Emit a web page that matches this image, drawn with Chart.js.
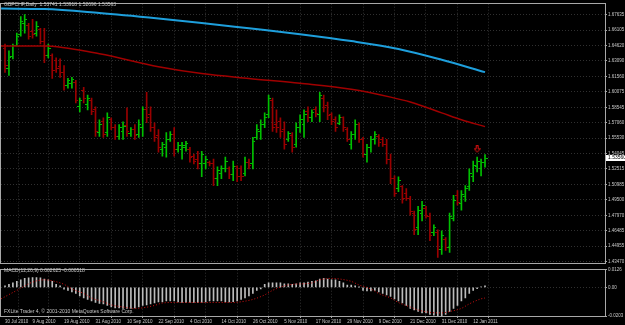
<!DOCTYPE html>
<html><head><meta charset="utf-8">
<script src="https://cdn.jsdelivr.net/npm/chart.js@4.4.0/dist/chart.umd.min.js"></script>
<style>
html,body{margin:0;padding:0;background:#000;width:625px;height:325px;overflow:hidden;}
#main{position:absolute;left:0;top:0;}
#macd{position:absolute;left:0;top:266px;}
</style></head><body>
<canvas id="main" width="625" height="266"></canvas>
<canvas id="macd" width="625" height="59"></canvas>
<script>
// ---------- DATA ----------
const titleText = 'GBPCHF,Daily  1.53741 1.53918 1.52696 1.53563';
const macdText = 'MACD(12,26,9) 0.002625 -0.000518';
const copyrightText = 'FXLite Trader 4, \u00a9 2001-2010 MetaQuotes Software Corp.';
const firstBarDate = [2010, 6, 29];
const firstTickLabel = '30 Jul 2010';
const dateTickLabels = ['9 Aug 2010','19 Aug 2010','31 Aug 2010','10 Sep 2010','22 Sep 2010','4 Oct 2010','14 Oct 2010','26 Oct 2010','5 Nov 2010','17 Nov 2010','29 Nov 2010','9 Dec 2010','21 Dec 2010','31 Dec 2010','12 Jan 2011'];
const priceTicks = [1.67635,1.66105,1.64620,1.63090,1.61560,1.60075,1.58545,1.57060,1.55530,1.54045,1.52515,1.50985,1.49500,1.47970,1.46485,1.44955,1.43470];
const macdTicks = [0.0126, 0, -0.0203];
const macdTickLabels = ['0.0126', '0.00', '-0.0203'];

const openP = [
1.6427,1.6234,1.6350,1.6465,1.6571,1.6677,1.6658,1.6600,1.6581,1.6619,
1.6504,1.6359,1.6359,1.6311,1.6253,1.6196,1.6070,1.6090,1.6099,1.5859,
1.6022,1.5878,1.5926,1.5830,1.5608,1.5714,1.5608,1.5733,1.5656,1.5570,
1.5618,1.5676,1.5599,1.5637,1.5589,1.5656,1.5830,1.5782,1.5656,1.5579,
1.5444,1.5464,1.5541,1.5589,1.5444,1.5444,1.5464,1.5444,1.5377,1.5348,
1.5300,1.5300,1.5319,1.5300,1.5156,1.5204,1.5252,1.5252,1.5194,1.5271,
1.5252,1.5204,1.5319,1.5300,1.5560,1.5618,1.5685,1.5782,1.5926,1.5685,
1.5714,1.5637,1.5541,1.5579,1.5493,1.5656,1.5685,1.5811,1.5753,1.5830,
1.5782,1.5945,1.5868,1.5782,1.5733,1.5695,1.5753,1.5637,1.5493,1.5589,
1.5685,1.5541,1.5396,1.5464,1.5541,1.5570,1.5541,1.5493,1.5348,1.5156,
1.5059,1.5078,1.5011,1.4963,1.4819,1.4674,1.4819,1.4867,1.4790,1.4626,
1.4626,1.4462,1.4559,1.4482,1.4770,1.4992,1.4915,1.4982,1.5078,1.5175,
1.5271,1.5252,1.5319];
const highP = [
1.6475,1.6408,1.6475,1.6581,1.6745,1.6764,1.6677,1.6716,1.6696,1.6629,
1.6629,1.6475,1.6379,1.6340,1.6330,1.6263,1.6138,1.6148,1.6119,1.5945,
1.6051,1.5974,1.5945,1.5859,1.5733,1.5753,1.5801,1.5753,1.5685,1.5685,
1.5714,1.5849,1.5656,1.5685,1.5733,1.5859,1.6003,1.5859,1.5704,1.5637,
1.5512,1.5608,1.5618,1.5656,1.5512,1.5512,1.5522,1.5464,1.5396,1.5425,
1.5425,1.5377,1.5329,1.5348,1.5271,1.5281,1.5367,1.5271,1.5329,1.5281,
1.5281,1.5367,1.5348,1.5560,1.5685,1.5733,1.5801,1.5974,1.5945,1.5830,
1.5753,1.5714,1.5618,1.5608,1.5704,1.5782,1.5830,1.5859,1.5830,1.5859,
1.6003,1.5974,1.5907,1.5801,1.5762,1.5782,1.5762,1.5656,1.5618,1.5733,
1.5704,1.5560,1.5493,1.5570,1.5618,1.5589,1.5560,1.5541,1.5396,1.5184,
1.5175,1.5088,1.5059,1.4982,1.4838,1.4886,1.4934,1.4886,1.4819,1.4703,
1.4655,1.4645,1.4578,1.4819,1.4992,1.5040,1.5040,1.5088,1.5252,1.5329,
1.5367,1.5348,1.5392];
const lowP = [
1.6196,1.6167,1.6330,1.6456,1.6552,1.6581,1.6523,1.6533,1.6552,1.6475,
1.6292,1.6340,1.6138,1.6196,1.6148,1.6022,1.6042,1.6042,1.5897,1.5811,
1.5897,1.5830,1.5782,1.5570,1.5570,1.5560,1.5570,1.5637,1.5541,1.5541,
1.5541,1.5570,1.5570,1.5541,1.5560,1.5570,1.5704,1.5618,1.5522,1.5416,
1.5377,1.5367,1.5522,1.5377,1.5416,1.5348,1.5425,1.5319,1.5300,1.5252,
1.5175,1.5252,1.5281,1.5088,1.5088,1.5156,1.5223,1.5156,1.5136,1.5127,
1.5136,1.5184,1.5252,1.5252,1.5541,1.5541,1.5656,1.5753,1.5618,1.5608,
1.5560,1.5444,1.5522,1.5416,1.5464,1.5608,1.5560,1.5714,1.5714,1.5762,
1.5714,1.5811,1.5733,1.5685,1.5618,1.5685,1.5618,1.5522,1.5444,1.5541,
1.5512,1.5367,1.5319,1.5416,1.5493,1.5473,1.5473,1.5300,1.5107,1.4982,
1.5030,1.4915,1.4944,1.4799,1.4607,1.4607,1.4742,1.4770,1.4549,1.4597,
1.4385,1.4414,1.4453,1.4433,1.4742,1.4896,1.4847,1.4934,1.5040,1.5127,
1.5223,1.5184,1.5270];
const closeP = [
1.6263,1.6340,1.6456,1.6552,1.6696,1.6716,1.6552,1.6571,1.6648,1.6504,
1.6359,1.6436,1.6215,1.6234,1.6196,1.6070,1.6119,1.6128,1.5926,1.5926,
1.5945,1.5945,1.5811,1.5618,1.5685,1.5589,1.5753,1.5656,1.5570,1.5656,
1.5666,1.5618,1.5637,1.5579,1.5685,1.5830,1.5753,1.5656,1.5560,1.5464,
1.5493,1.5541,1.5589,1.5444,1.5483,1.5483,1.5502,1.5367,1.5329,1.5300,
1.5396,1.5348,1.5300,1.5156,1.5233,1.5252,1.5329,1.5194,1.5271,1.5175,
1.5175,1.5319,1.5281,1.5522,1.5637,1.5685,1.5753,1.5945,1.5656,1.5656,
1.5618,1.5493,1.5599,1.5464,1.5656,1.5733,1.5782,1.5753,1.5801,1.5791,
1.5974,1.5849,1.5772,1.5714,1.5656,1.5753,1.5656,1.5541,1.5589,1.5685,
1.5541,1.5396,1.5464,1.5541,1.5589,1.5512,1.5493,1.5348,1.5156,1.5011,
1.5136,1.4963,1.4963,1.4838,1.4655,1.4847,1.4896,1.4799,1.4597,1.4674,
1.4462,1.4597,1.4482,1.4790,1.4944,1.4924,1.5001,1.5059,1.5204,1.5281,
1.5329,1.5319,1.5356];

// moving averages (sampled bar index -> value)
const maBlueIdx = [-1, 10, 24, 39, 50, 62, 75, 88, 100, 111, 122];
const maBlueVal = [1.6822, 1.6817, 1.6778, 1.6725, 1.6682, 1.6629, 1.6571, 1.6504, 1.6427, 1.6321, 1.6200];
const maRedIdx = [-1, 10, 24, 39, 50, 62, 75, 88, 98, 103, 111, 116, 122];
const maRedVal = [1.6456, 1.6456, 1.6379, 1.6253, 1.6186, 1.6138, 1.6090, 1.6032, 1.5955, 1.5907, 1.5801, 1.5733, 1.5666];

// signal arrow marker
const arrowIdx = [120];
const arrowVal = [1.5444];

// MACD main (histogram) per bar
const macdMain = [
0.00109,0.00218,0.0032,0.00429,0.00538,0.0064,0.00685,0.00704,0.00704,0.00685,
0.00602,0.00538,0.00429,0.00218,0.00109,-0.00128,-0.00211,-0.0032,-0.00429,-0.00595,
-0.00749,-0.00851,-0.0096,-0.01069,-0.01133,-0.01171,-0.0128,-0.01389,-0.01453,-0.01453,
-0.01491,-0.01491,-0.01491,-0.01453,-0.01389,-0.0128,-0.01235,-0.01171,-0.01107,-0.01024,
-0.01024,-0.0096,-0.0096,-0.0096,-0.01024,-0.01069,-0.01069,-0.01069,-0.01069,-0.01069,
-0.01069,-0.01024,-0.0096,-0.0096,-0.0096,-0.0096,-0.01024,-0.01024,-0.01005,-0.0096,
-0.00851,-0.00749,-0.00595,-0.00429,-0.00211,-0.00109,0.00218,0.0032,0.0032,0.0032,
0.0032,0.00256,0.00256,0.00218,0.00256,0.0032,0.0032,0.00384,0.00429,0.00467,
0.00602,0.0064,0.00602,0.00538,0.00538,0.00429,0.0032,0.00173,0.00173,0.00109,
0.00019,-0.00211,-0.00256,-0.00256,-0.00211,-0.0032,-0.00429,-0.00531,-0.0064,-0.00813,
-0.0096,-0.01107,-0.0128,-0.01491,-0.016,-0.01709,-0.01811,-0.01811,-0.0192,-0.01965,
-0.02029,-0.02029,-0.0192,-0.01709,-0.01491,-0.0128,-0.0096,-0.00749,-0.00429,-0.00211,
-0.00096,0.00045,0.00109];
// MACD signal (sampled bar index -> value)
const sigIdx = [-1,3,7,10,12,15,17,20,22,25,27,30,33,35,38,40,43,58,60,63,66,68,71,73,76,78,80,83,85,88,90,93,95,98,100,103,105,108,111,113,116,118,121,122];
const sigVal = [-0.0081,-0.0021,0.0038,0.0054,0.0047,0.0022,-0.0011,-0.0043,-0.0075,-0.0102,-0.0124,-0.0139,-0.0149,-0.0145,-0.0128,-0.0111,-0.0107,-0.0107,-0.0102,-0.0085,-0.0053,-0.0021,0.0011,0.0022,0.0026,0.0032,0.0054,0.0064,0.0060,0.0043,0.0017,-0.0011,-0.0043,-0.0075,-0.0107,-0.0139,-0.0160,-0.0177,-0.0181,-0.0171,-0.0149,-0.0117,-0.0081,-0.0075];

// ---------- STYLE ----------
const UP = '#00c000', DOWN = '#9a0000';
const BLUE = '#1e9fdc', MARED = '#a00000';
const GRID = '#303030', AXIS = '#a8a8a8', TXT = '#c8c8c8';
const FONT = 'Liberation Sans';
const X_MIN = -1.02, X_MAX = 152.5;
const Y_MIN = 1.4337, Y_MAX = 1.6870;

// bar dates (weekdays)
const MONTHS = ['Jan','Feb','Mar','Apr','May','Jun','Jul','Aug','Sep','Oct','Nov','Dec'];
const barDates = [];
{ const d = new Date(Date.UTC(firstBarDate[0], firstBarDate[1], firstBarDate[2]));
  while (barDates.length < closeP.length) {
    const wd = d.getUTCDay();
    if (wd !== 0 && wd !== 6) barDates.push(d.getUTCDate() + ' ' + MONTHS[d.getUTCMonth()] + ' ' + d.getUTCFullYear());
    d.setUTCDate(d.getUTCDate() + 1);
  } }
const xTickIdx = [0].concat(dateTickLabels.map(s => barDates.indexOf(s)).filter(i => i >= 0));
const xLabel = v => v === 0 ? firstTickLabel : (barDates[v] || '');

function tickImg(color, left) {
  const c = document.createElement('canvas'); c.width = 5; c.height = 1;
  const g = c.getContext('2d'); g.fillStyle = color; g.fillRect(left ? 0 : 3, 0, 2, 1); return c;
}
const imgs = { upO: tickImg(UP, true), upC: tickImg(UP, false), dnO: tickImg(DOWN, true), dnC: tickImg(DOWN, false) };
const arrowImg = (() => {
  const c = document.createElement('canvas'); c.width = 7; c.height = 8;
  const g = c.getContext('2d'); g.strokeStyle = '#e01010'; g.lineWidth = 1;
  g.beginPath(); g.moveTo(2.5, 0.5); g.lineTo(4.5, 0.5); g.lineTo(4.5, 3.5); g.lineTo(6.5, 3.5);
  g.lineTo(3.5, 7); g.lineTo(0.5, 3.5); g.lineTo(2.5, 3.5); g.closePath(); g.stroke(); return c;
})();
const isUp = i => closeP[i] >= openP[i];

const framePlugin = {
  id: 'frame',
  afterDraw(chart, args, opts) {
    const { ctx, chartArea: a } = chart;
    ctx.save();
    ctx.strokeStyle = AXIS; ctx.lineWidth = 1;
    ctx.strokeRect(Math.round(a.left) - 0.5, Math.round(a.top) - 0.5, Math.round(a.right - a.left) + 1, Math.round(a.bottom - a.top) + 1);
    ctx.fillStyle = TXT; ctx.font = '5px ' + FONT; ctx.textBaseline = 'middle'; ctx.textAlign = 'left';
    (opts.texts || []).forEach(t => ctx.fillText(t.text, t.x, t.y));
    if (opts.bid) {
      const y = chart.scales.y.getPixelForValue(closeP[closeP.length - 1]);
      ctx.fillStyle = '#ffffff'; ctx.fillRect(a.right + 1, Math.round(y) - 3, 24, 6);
      ctx.fillStyle = '#000000'; ctx.fillText(closeP[closeP.length - 1].toFixed(5), a.right + 3, Math.round(y));
    }
    ctx.restore();
  }
};

const xScaleBase = {
  type: 'linear', min: X_MIN, max: X_MAX, offset: false,
  afterBuildTicks: s => { s.ticks = xTickIdx.map(v => ({ value: v })); },
  grid: { color: GRID, drawTicks: false },
  border: { display: false, dash: [1, 2] }
};

new Chart(document.getElementById('main'), {
  type: 'bar',
  data: {
    datasets: [
      { type: 'line', data: maBlueIdx.map((x, k) => ({ x, y: maBlueVal[k] })), borderColor: BLUE, borderWidth: 2, pointRadius: 0, cubicInterpolationMode: 'monotone', order: 1 },
      { type: 'line', data: maRedIdx.map((x, k) => ({ x, y: maRedVal[k] })), borderColor: MARED, borderWidth: 1.5, pointRadius: 0, cubicInterpolationMode: 'monotone', order: 1 },
      { type: 'bar', data: closeP.map((c, i) => ({ x: i, y: [lowP[i], highP[i]] })), backgroundColor: closeP.map((c, i) => isUp(i) ? UP : DOWN), barThickness: 1, borderWidth: 0, order: 3 },
      { type: 'line', showLine: false, data: openP.map((v, i) => ({ x: i, y: v })), pointStyle: c => isUp(c.dataIndex) ? imgs.upO : imgs.dnO, pointRadius: 1, order: 2 },
      { type: 'line', showLine: false, data: closeP.map((v, i) => ({ x: i, y: v })), pointStyle: c => isUp(c.dataIndex) ? imgs.upC : imgs.dnC, pointRadius: 1, order: 2 },
      { type: 'line', showLine: false, data: arrowIdx.map((x, k) => ({ x, y: arrowVal[k] })), pointStyle: arrowImg, pointRadius: 1, order: 0 }
    ]
  },
  options: {
    responsive: false, animation: false, devicePixelRatio: 1,
    layout: { padding: { left: 1, top: 2, right: 0, bottom: 1 }, autoPadding: false },
    plugins: { legend: { display: false }, tooltip: { enabled: false },
      frame: { texts: [{ text: titleText, x: 4, y: 5 }], bid: true } },
    scales: {
      x: Object.assign({}, xScaleBase, { ticks: { display: false }, afterFit: s => { s.height = 0; } }),
      y: {
        position: 'right', min: Y_MIN, max: Y_MAX,
        afterBuildTicks: s => { s.ticks = priceTicks.map(v => ({ value: v })); },
        afterFit: s => { s.width = 20; },
        ticks: { color: TXT, font: { size: 4.5, family: FONT }, padding: 1, autoSkip: false, callback: v => Number(v).toFixed(5) },
        grid: { color: GRID, drawTicks: true, tickLength: 2, tickColor: AXIS },
        border: { display: true, color: AXIS, dash: [1, 2] }
      }
    }
  },
  plugins: [framePlugin]
});

new Chart(document.getElementById('macd'), {
  type: 'bar',
  data: {
    datasets: [
      { type: 'line', data: sigIdx.map((x, k) => ({ x, y: sigVal[k] })), borderColor: '#d01010', borderWidth: 1, borderDash: [1, 2], pointRadius: 0, cubicInterpolationMode: 'monotone', order: 1 },
      { type: 'bar', data: macdMain.map((v, i) => ({ x: i, y: v })), backgroundColor: '#bcbcbc', barThickness: 1, borderWidth: 0, order: 2 }
    ]
  },
  options: {
    responsive: false, animation: false, devicePixelRatio: 1,
    layout: { padding: { left: 1, top: 1, right: 0, bottom: 0 }, autoPadding: false },
    plugins: { legend: { display: false }, tooltip: { enabled: false },
      frame: { texts: [{ text: macdText, x: 4, y: 5 }, { text: copyrightText, x: 4, y: 46 }] } },
    scales: {
      x: Object.assign({}, xScaleBase, {
        afterFit: s => { s.height = 9; },
        ticks: { display: true, color: TXT, font: { size: 4.5, family: FONT }, align: 'start', maxRotation: 0, autoSkip: false, padding: 1, callback: v => xLabel(v) },
        grid: { color: GRID, drawTicks: true, tickLength: 2, tickColor: AXIS }
      }),
      y: {
        position: 'right', min: macdTicks[2], max: macdTicks[0],
        afterBuildTicks: s => { s.ticks = macdTicks.map(v => ({ value: v })); },
        afterFit: s => { s.width = 20; },
        ticks: { color: TXT, font: { size: 4.5, family: FONT }, padding: 1, autoSkip: false, callback: (v) => macdTickLabels[macdTicks.indexOf(v)] },
        grid: { color: GRID, drawTicks: true, tickLength: 2, tickColor: AXIS },
        border: { display: true, color: AXIS, dash: [1, 2] }
      }
    }
  },
  plugins: [framePlugin]
});
</script>
</body></html>
